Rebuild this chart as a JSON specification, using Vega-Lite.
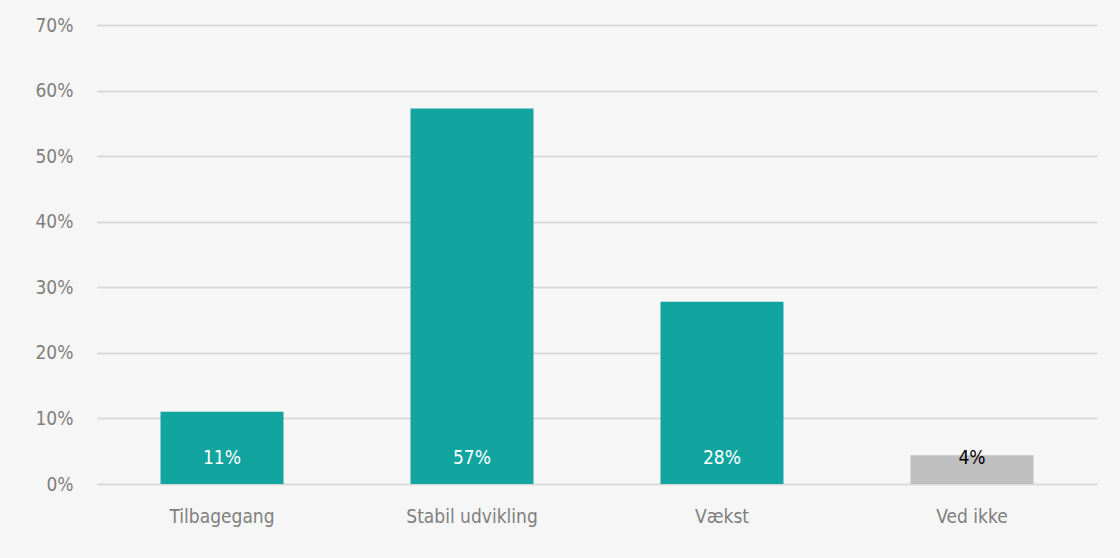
{
  "$schema": "https://vega.github.io/schema/vega-lite/v6.json",
  "width": 1000,
  "height": 459,
  "autosize": "none",
  "padding": {"left": 97, "top": 25, "right": 23, "bottom": 74},
  "background": "#f6f6f6",
  "config": {
    "view": {"stroke": null},
    "font": "'DejaVu Sans Condensed', 'Noto Sans', sans-serif"
  },
  "data": {
    "values": [
      {"kategori": "Tilbagegang", "andel": 0.11, "label": "11%", "type": "svar"},
      {"kategori": "Stabil udvikling", "andel": 0.5725, "label": "57%", "type": "svar"},
      {"kategori": "Vækst", "andel": 0.278, "label": "28%", "type": "svar"},
      {"kategori": "Ved ikke", "andel": 0.044, "label": "4%", "type": "ved"}
    ]
  },
  "encoding": {
    "x": {
      "field": "kategori",
      "type": "nominal",
      "sort": null,
      "scale": {"paddingInner": 0.508, "paddingOuter": 0.254},
      "axis": {
        "title": null,
        "labelAngle": 0,
        "domain": false,
        "ticks": false,
        "labelPadding": 23,
        "labelFontSize": 19,
        "labelColor": "#7f7f7f",
        "labelFont": "'DejaVu Sans Condensed', 'Noto Sans', sans-serif"
      }
    }
  },
  "layer": [
    {
      "mark": {"type": "bar"},
      "encoding": {
        "y": {
          "field": "andel",
          "type": "quantitative",
          "scale": {"domain": [0, 0.7]},
          "axis": {
            "title": null,
            "format": ".0%",
            "values": [0, 0.1, 0.2, 0.3, 0.4, 0.5, 0.6, 0.7],
            "domain": false,
            "ticks": false,
            "labelPadding": 24,
            "labelFontSize": 19,
            "labelColor": "#7f7f7f",
            "labelFont": "'DejaVu Sans Condensed', 'Noto Sans', sans-serif",
            "gridColor": "#d9d9d9",
            "gridWidth": 2,
            "gridOpacity": 1
          }
        },
        "color": {
          "field": "type",
          "type": "nominal",
          "scale": {"domain": ["svar", "ved"], "range": ["#12a59f", "#bfbfbf"]},
          "legend": null
        }
      }
    },
    {
      "mark": {"type": "text", "baseline": "middle", "dy": -26, "fontSize": 19, "font": "'DejaVu Sans Condensed', 'Noto Sans', sans-serif"},
      "encoding": {
        "y": {"datum": 0, "type": "quantitative"},
        "text": {"field": "label"},
        "color": {
          "field": "type",
          "type": "nominal",
          "scale": {"domain": ["svar", "ved"], "range": ["#ffffff", "#000000"]},
          "legend": null
        }
      }
    }
  ],
  "resolve": {"scale": {"color": "independent"}}
}
